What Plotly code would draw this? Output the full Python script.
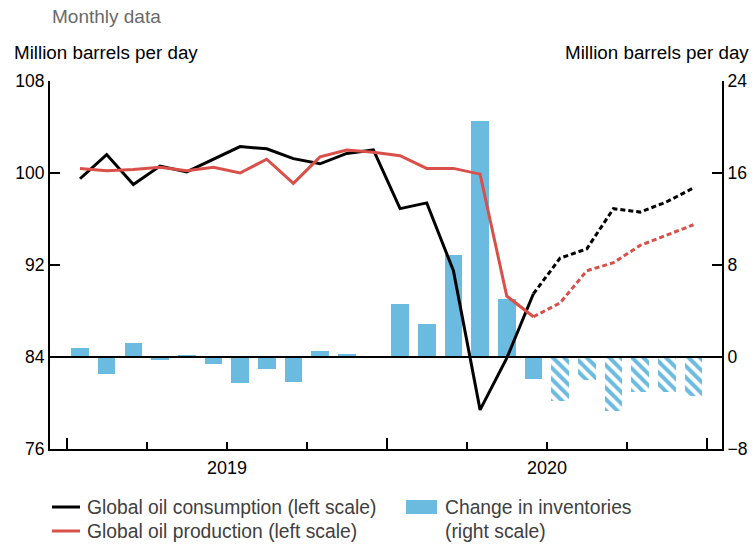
import plotly.graph_objects as go

# ---------------- data ----------------
months = ["Jan 2019", "Feb 2019", "Mar 2019", "Apr 2019", "May 2019", "Jun 2019",
          "Jul 2019", "Aug 2019", "Sep 2019", "Oct 2019", "Nov 2019", "Dec 2019",
          "Jan 2020", "Feb 2020", "Mar 2020", "Apr 2020", "May 2020", "Jun 2020",
          "Jul 2020", "Aug 2020", "Sep 2020", "Oct 2020", "Nov 2020", "Dec 2020"]

consumption = [99.5, 101.6, 99.0, 100.6, 100.1, 101.2, 102.3, 102.1, 101.25, 100.8, 101.7, 102.0,
               96.9, 97.4, 91.5, 79.4, 83.9, 89.5, 92.6, 93.4, 96.9, 96.6, 97.5, 98.7]

production = [100.4, 100.2, 100.3, 100.5, 100.2, 100.5, 100.0, 101.2, 99.1, 101.4, 102.0, 101.8,
              101.5, 100.4, 100.4, 99.9, 89.3, 87.5, 88.7, 91.5, 92.2, 93.7, 94.6, 95.5]

inventories = [0.8, -1.45, 1.2, -0.25, 0.1, -0.6, -2.3, -1.0, -2.15, 0.55, 0.25, 0.0,
               4.65, 2.9, 8.85, 20.5, 5.05, -1.9, -3.8, -2.0, -4.7, -3.05, -3.05, -3.4]

last_actual = 17          # Jun 2020: last actual month, forecasts follow
year_labels = ["2019", "2020"]
left_ticks = [76, 84, 92, 100, 108]
right_ticks = [-8, 0, 8, 16, 24]

# ---------------- style ----------------
BLUE = "#6BBBE1"
RED = "#D9504A"
BLACK = "#000000"
FONT = "Liberation Sans"

x = list(range(len(months)))

# plot-area pixel geometry helpers (layout only)
L, R, T, B = 50, 722, 81, 449
def px(xp):
    return (xp - L) / (R - L)
def py(yp):
    return (B - yp) / (B - T)

fig = go.Figure()

# bars on primary (right-side) axis so that lines on overlaying axis draw on top
shapes_pattern = ["" if i <= last_actual else "\\" for i in x]
fig.add_trace(go.Bar(
    x=x, y=inventories, width=0.66,
    marker=dict(color=BLUE, line=dict(width=0),
                pattern=dict(shape=shapes_pattern, fgcolor=BLUE, bgcolor="white",
                             size=8, solidity=0.5, fillmode="replace")),
    yaxis="y", showlegend=False, name="Change in inventories"))

# lines: actual (solid) and forecast (dotted)
for series, color, name in [(consumption, BLACK, "Global oil consumption"),
                            (production, RED, "Global oil production")]:
    fig.add_trace(go.Scatter(
        x=x[:last_actual + 1], y=series[:last_actual + 1], mode="lines",
        line=dict(color=color, width=3), yaxis="y2", showlegend=False, name=name))
    fig.add_trace(go.Scatter(
        x=x[last_actual:], y=series[last_actual:], mode="lines",
        line=dict(color=color, width=3, dash="5px,3px"), yaxis="y2",
        showlegend=False, name=name + " (forecast)"))

axis_common = dict(showgrid=False, zeroline=False, showline=True, linecolor=BLACK,
                   linewidth=2, ticks="inside", ticklen=10, tickwidth=2, automargin=False,
                   tickcolor=BLACK, tickfont=dict(size=17.5, color=BLACK, family=FONT))

fig.update_layout(
    width=756, height=544,
    margin=dict(l=L, r=756 - R, t=T, b=544 - B, autoexpand=False),
    plot_bgcolor="white", paper_bgcolor="white",
    font=dict(family=FONT, color=BLACK),
    showlegend=False, bargap=0,
    xaxis=dict(range=[-1.125, 24.07], showgrid=False, zeroline=False, showline=True,
               linecolor=BLACK, linewidth=2, ticks="inside", ticklen=11, tickwidth=2,
               tickcolor=BLACK, tickvals=[-0.5, 11.5, 23.5], showticklabels=False,
               automargin=False,
               minor=dict(ticks="inside", ticklen=7, tickwidth=2, tickcolor=BLACK,
                          tickvals=[2.5, 5.5, 8.5, 14.5, 17.5, 20.5])),
    yaxis=dict(range=[right_ticks[0], right_ticks[-1]], tickvals=right_ticks,
               side="right", **axis_common),
    yaxis2=dict(range=[left_ticks[0], left_ticks[-1]], tickvals=left_ticks,
                side="left", overlaying="y", **axis_common),
)

shapes = []
annotations = []

# zero line of the right scale
shapes.append(dict(type="line", xref="paper", x0=0, x1=1, yref="y", y0=0, y1=0,
                   line=dict(color=BLACK, width=2), layer="above"))

# year labels centred under each year
for i, lab in enumerate(year_labels):
    annotations.append(dict(text=lab, x=5.5 + 12 * i, xref="x", y=py(468), yref="paper",
                            showarrow=False, xanchor="center", yanchor="middle",
                            font=dict(size=18, color=BLACK, family=FONT)))

# titles
annotations.append(dict(text="Monthly data", x=px(50), y=py(17), xref="paper", yref="paper",
                        showarrow=False, xanchor="left", yanchor="middle",
                        font=dict(size=19, color="#6a6a6a", family=FONT)))
annotations.append(dict(text="Million barrels per day", x=px(12), y=py(52), xref="paper",
                        yref="paper", showarrow=False, xanchor="left", yanchor="middle",
                        font=dict(size=18.8, color=BLACK, family=FONT)))
annotations.append(dict(text="Million barrels per day", x=px(751), y=py(52), xref="paper",
                        yref="paper", showarrow=False, xanchor="right", yanchor="middle",
                        font=dict(size=18.8, color=BLACK, family=FONT)))

# custom legend
LEG = "#404040"
shapes.append(dict(type="line", xref="paper", yref="paper", x0=px(52), x1=px(80),
                   y0=py(507), y1=py(507), line=dict(color=BLACK, width=3)))
shapes.append(dict(type="line", xref="paper", yref="paper", x0=px(52), x1=px(80),
                   y0=py(531), y1=py(531), line=dict(color=RED, width=3)))
shapes.append(dict(type="rect", xref="paper", yref="paper", x0=px(406), x1=px(437),
                   y0=py(514), y1=py(500), fillcolor=BLUE, line=dict(width=0)))
for txt, xp, yp in [("Global oil consumption (left scale)", 85, 507),
                    ("Global oil production (left scale)", 85, 531),
                    ("Change in inventories", 443, 507),
                    ("(right scale)", 443, 531)]:
    annotations.append(dict(text=txt, x=px(xp), y=py(yp), xref="paper", yref="paper",
                            showarrow=False, xanchor="left", yanchor="middle",
                            font=dict(size=19.3, color=LEG, family=FONT)))

fig.update_layout(shapes=shapes, annotations=annotations)

fig.write_html("out.html",
               config={"displayModeBar": False},
               post_script="document.body.style.margin='0';"
                           "document.body.style.overflow='hidden';")
